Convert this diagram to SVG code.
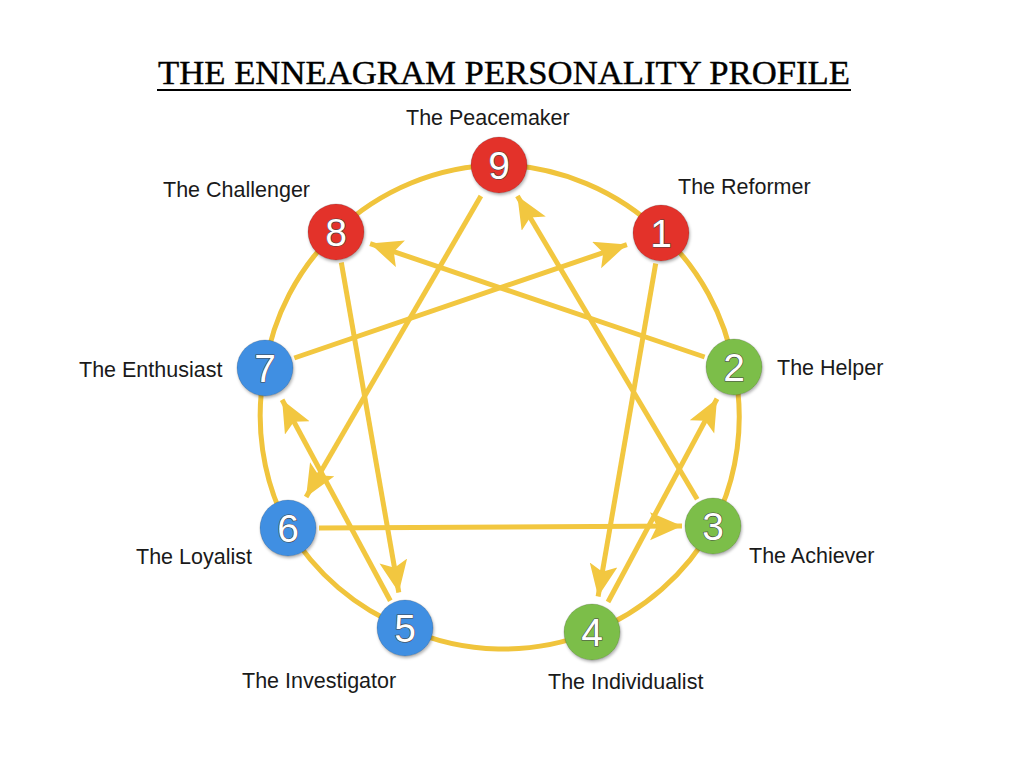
<svg xmlns="http://www.w3.org/2000/svg" width="1024" height="768" viewBox="0 0 1024 768">
  <style>
    .title { font-family: "Liberation Serif", "Times New Roman", serif; font-size: 33px; fill: #000; stroke: #000; stroke-width: 0.4; }
    .label { font-family: "Liberation Sans", Arial, sans-serif; font-size: 21.5px; fill: #1a1a1a; }
    .num { font-family: "Liberation Sans", Arial, sans-serif; font-size: 39px; fill: #fff; stroke: #444; stroke-width: 1.2; paint-order: stroke; text-anchor: middle; }
    .ring { fill: none; stroke: #F0C43C; stroke-width: 5; }
    .arrow { fill: none; stroke: #F2C740; stroke-width: 5; marker-end: url(#head); }
    .red { fill: #E3302A; }
    .blue { fill: #3F8FE2; }
    .green { fill: #7CBE48; }
    .node circle { stroke: rgba(0,0,0,0.15); stroke-width: 1; filter: url(#shadow); }
  </style>
  <defs>
    <marker id="head" markerUnits="userSpaceOnUse" markerWidth="34" markerHeight="30" refX="32" refY="14" orient="auto" viewBox="0 0 34 30">
      <path d="M0,0 L32,14 L0,28 L7,14 z" fill="#F2C740"/>
    </marker>
    <filter id="shadow" x="-30%" y="-30%" width="160%" height="160%">
      <feDropShadow dx="1" dy="2" stdDeviation="1.5" flood-color="#000" flood-opacity="0.3"/>
    </filter>
  </defs>
  <rect width="1024" height="768" fill="#fff"/>

  <g id="title">
    <text class="title" x="158" y="84" textLength="692" lengthAdjust="spacingAndGlyphs">THE ENNEAGRAM PERSONALITY PROFILE</text>
    <line x1="157" y1="90" x2="851" y2="90" stroke="#000" stroke-width="2"/>
  </g>

  <g id="ring">
    <path class="ring" d="M499,165 A240,240 0 0 1 661,233 A240,240 0 0 1 734,367 A240,240 0 0 1 713,526 A240,240 0 0 1 592,632 A240,240 0 0 1 405,628 A240,240 0 0 1 288,528 A240,240 0 0 1 265,368 A240,240 0 0 1 336,232 A240,240 0 0 1 499,165 Z"/>
  </g>

  <g id="connectors">
    <line class="arrow" x1="655.7" y1="263.5" x2="598.1" y2="596.5"/>
    <line class="arrow" x1="608" y1="602" x2="717" y2="398.7"/>
    <line class="arrow" x1="704.6" y1="357" x2="370.1" y2="243.6"/>
    <line class="arrow" x1="341.3" y1="262.5" x2="398.8" y2="592.5"/>
    <line class="arrow" x1="390.3" y1="600.7" x2="282.1" y2="399.7"/>
    <line class="arrow" x1="294.3" y1="358" x2="626.9" y2="244.6"/>
    <line class="arrow" x1="480.9" y1="196.1" x2="306.1" y2="496.9"/>
    <line class="arrow" x1="319" y1="527.9" x2="682" y2="526"/>
    <line class="arrow" x1="697.2" y1="499.3" x2="517.4" y2="196"/>
  </g>

  <g id="node9" class="node"><circle class="red" cx="499" cy="165" r="28"/><text class="num" x="499" y="179">9</text></g>
  <g id="node1" class="node"><circle class="red" cx="661" cy="233" r="28"/><text class="num" x="661" y="247">1</text></g>
  <g id="node2" class="node"><circle class="green" cx="734" cy="367" r="28"/><text class="num" x="734" y="381">2</text></g>
  <g id="node3" class="node"><circle class="green" cx="713" cy="526" r="28"/><text class="num" x="713" y="540">3</text></g>
  <g id="node4" class="node"><circle class="green" cx="592" cy="632" r="28"/><text class="num" x="592" y="646">4</text></g>
  <g id="node5" class="node"><circle class="blue" cx="405" cy="628" r="28"/><text class="num" x="405" y="642">5</text></g>
  <g id="node6" class="node"><circle class="blue" cx="288" cy="528" r="28"/><text class="num" x="288" y="542">6</text></g>
  <g id="node7" class="node"><circle class="blue" cx="265" cy="368" r="28"/><text class="num" x="265" y="382">7</text></g>
  <g id="node8" class="node"><circle class="red" cx="336" cy="232" r="28"/><text class="num" x="336" y="246">8</text></g>

  <g id="labels">
    <text class="label" x="406" y="125">The Peacemaker</text>
    <text class="label" x="678" y="194">The Reformer</text>
    <text class="label" x="163" y="197">The Challenger</text>
    <text class="label" x="79" y="377">The Enthusiast</text>
    <text class="label" x="777" y="375">The Helper</text>
    <text class="label" x="136" y="564">The Loyalist</text>
    <text class="label" x="749" y="563">The Achiever</text>
    <text class="label" x="242" y="688">The Investigator</text>
    <text class="label" x="548" y="689">The Individualist</text>
  </g>
</svg>
